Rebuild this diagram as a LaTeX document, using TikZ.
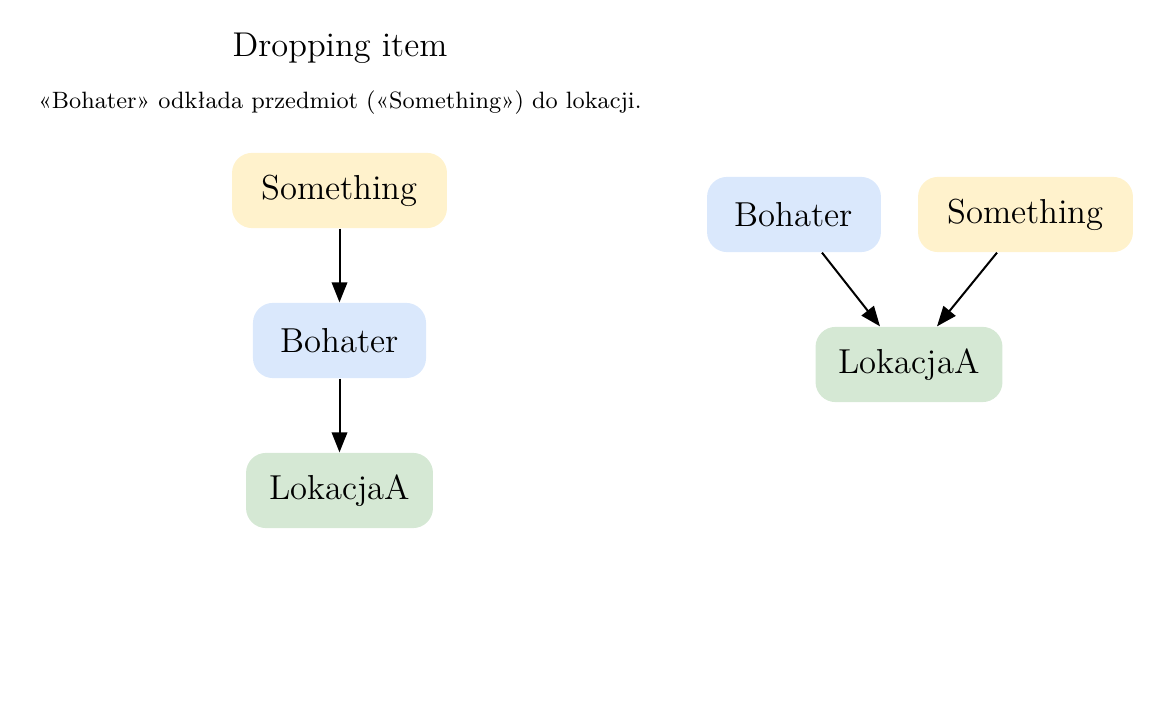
\documentclass[tikz,border=0pt]{standalone}
\usetikzlibrary{arrows.meta,calc}
\definecolor{cyellow}{HTML}{FFF2CC}
\definecolor{cblue}{HTML}{DAE8FC}
\definecolor{cgreen}{HTML}{D5E8D4}
\begin{document}
\begin{tikzpicture}[x=0.375pt,y=-0.375pt,
  box/.style={rounded corners=7.5pt, inner sep=0pt, font=\fontsize{13}{16}\selectfont, minimum height=28.2pt},
  link/.style={line width=0.75pt, -{Triangle[length=7.5pt,width=5.8pt]}}]
\useasboundingbox (0,0) rectangle (1162,707);
\node[font=\fontsize{12.9}{16}\selectfont] (title) at (340,48) {Dropping item};
\node[font=\fontsize{8.86}{11}\selectfont] (sub) at (340,103) {«Bohater» odkłada przedmiot («Something») do lokacji.};
% left
\node[box, fill=cyellow, minimum width=80.6pt] (s1) at (339.5,190.5) {Something};
\node[box, fill=cblue, minimum width=64.9pt] (b1) at (339.5,340.5) {Bohater};
\node[box, fill=cgreen, minimum width=70.1pt] (l1) at (339.5,490.5) {LokacjaA};
\draw[link] (s1) -- (b1);
\draw[link] (b1) -- (l1);
% right
\node[box, fill=cblue, minimum width=65.2pt] (b2) at (794,214.5) {Bohater};
\node[box, fill=cyellow, minimum width=80.6pt] (s2) at (1025.5,214.5) {Something};
\node[box, fill=cgreen, minimum width=70.1pt] (l2) at (909,364.5) {LokacjaA};
\draw[link] ($(b2.south)+(28,0)$) -- ($(l2.north)+(-29,0)$);
\draw[link] ($(s2.south)+(-28.5,0)$) -- ($(l2.north)+(28,0)$);
\end{tikzpicture}
\end{document}
